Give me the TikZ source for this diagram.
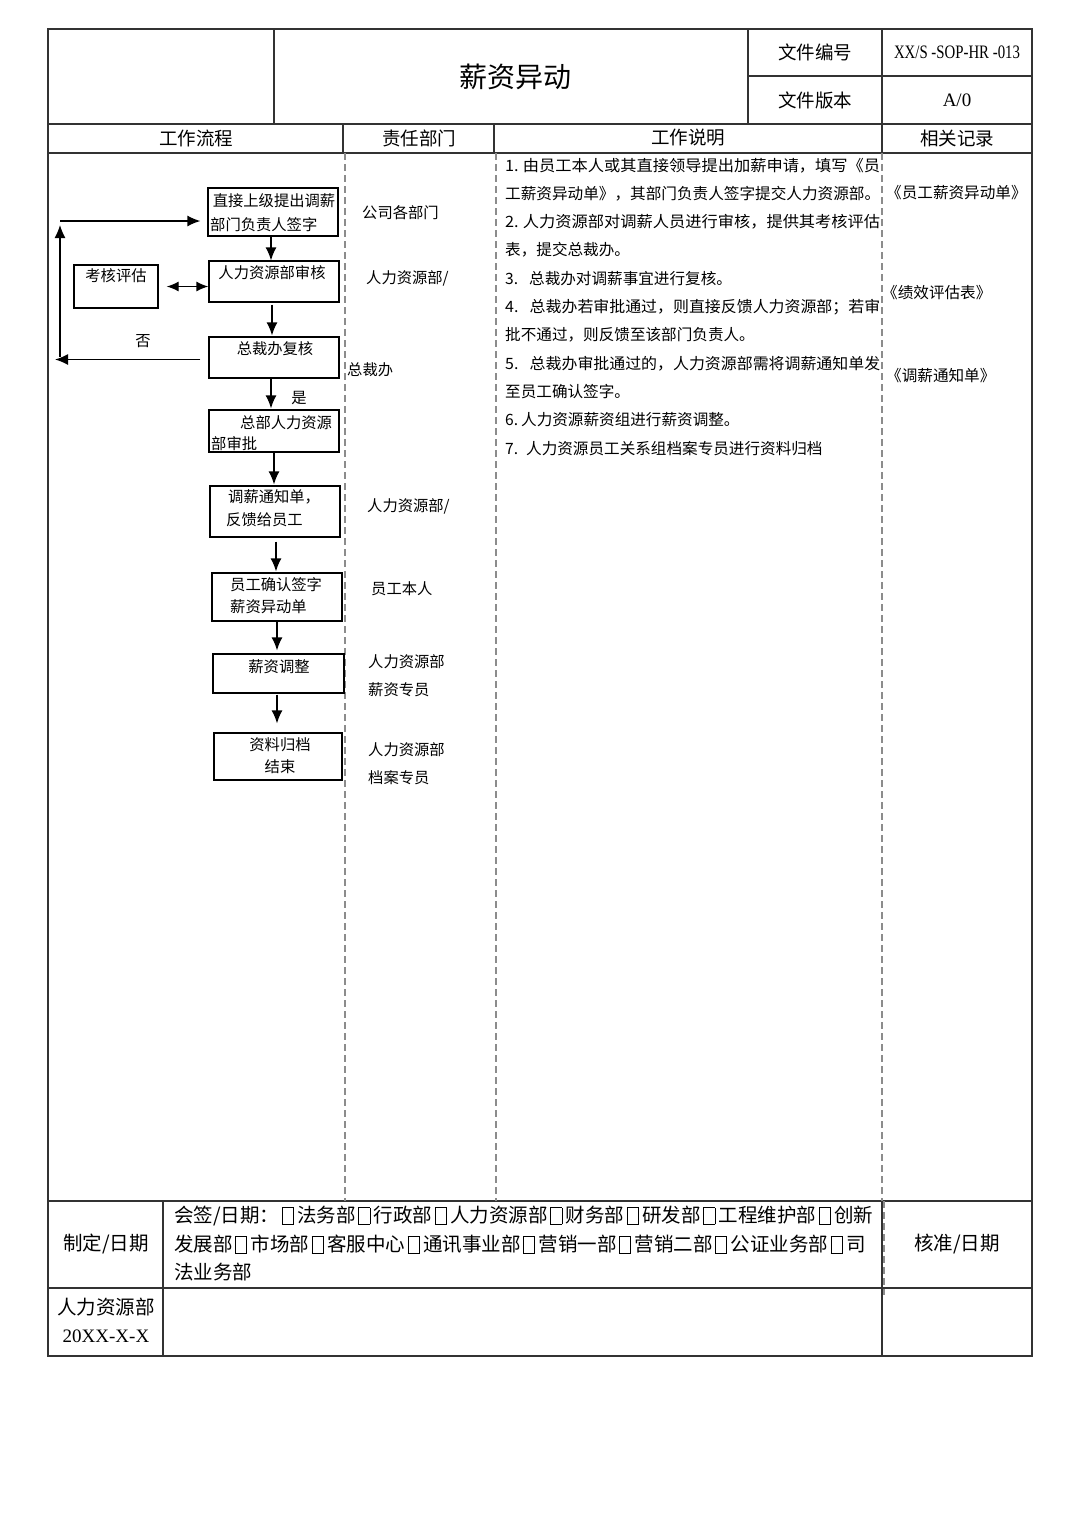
\documentclass[tikz,border=0pt]{standalone}
\usepackage{fontspec}
\setmainfont{Liberation Serif}
\newfontfamily\cjk{Noto Sans CJK SC}
\usetikzlibrary{arrows.meta}
\newcommand\cbx{\kern2.5pt\raisebox{-1.5pt}{\setlength\fboxsep{0pt}\setlength\fboxrule{0.8pt}\framebox[12pt]{\rule{0pt}{16pt}}}\kern3.5pt}
\newcommand\fitto[2]{\resizebox{#1}{\height}{#2}}
\begin{document}
\begin{tikzpicture}[x=1pt,y=-1pt,
  frame/.style={line width=1.1pt,draw=black!80},
  dsh/.style={draw=black!45,line width=1.1pt,dash pattern=on 7pt off 4pt},
  flowbox/.style={draw,line width=1.3pt,inner sep=0pt},
  arr/.style={line width=1.3pt,-{Latex[length=13pt,width=11pt]}},
  dbl/.style={line width=1.3pt,{Latex[length=12pt,width=10pt]}-{Latex[length=12pt,width=10pt]}},
  tx/.style={font=\cjk\fontsize{15.3}{18}\selectfont,inner sep=0pt},
  tl/.style={tx,anchor=west},
  desc/.style={font=\cjk\fontsize{15.6}{18}\selectfont,inner sep=0pt,anchor=west},
  hd/.style={font=\cjk\fontsize{18.5}{22}\selectfont,inner sep=0pt},
  ft/.style={font=\cjk\fontsize{19.5}{23}\selectfont,inner sep=0pt},
  lat/.style={font=\fontsize{19}{22}\selectfont,inner sep=0pt}
]
\useasboundingbox[fill=white] (0,0) rectangle (1080,1527);

% ---------- table frame ----------
\draw[frame] (48,29) rectangle (1032,1356);
\draw[frame] (48,124) -- (1032,124);
\draw[frame] (48,153) -- (1032,153);
\draw[frame] (274,29) -- (274,124);
\draw[frame] (748,29) -- (748,124);
\draw[frame] (882,29) -- (882,153);
\draw[frame] (748,76) -- (1032,76);
\draw[frame] (343,124) -- (343,153);
\draw[frame] (494,124) -- (494,153);
\draw[frame] (48,1201) -- (1032,1201);
\draw[frame] (48,1288) -- (1032,1288);
\draw[frame] (163,1201) -- (163,1356);
\draw[frame] (882,1201) -- (882,1356);
\draw[dsh] (345,153) -- (345,1201);
\draw[dsh] (496,153) -- (496,1201);
\draw[dsh] (882,153) -- (882,1201);
\draw[dsh] (884,1201) -- (884,1295);

% ---------- header ----------
\node[font=\cjk\fontsize{28}{32}\selectfont,inner sep=0pt] (title) at (515,77) {薪资异动};
\node[hd] (h1) at (815,52) {文件编号};
\node[inner sep=0pt,font=\fontsize{19}{22}\selectfont] (h2) at (957,52) {\scalebox{0.78}[1]{XX/S -SOP-HR -013}};
\node[hd] (h3) at (815,100) {文件版本};
\node[lat] (h4) at (957,100) {A/0};
\node[hd] (c1) at (196,138) {工作流程};
\node[hd] (c2) at (419,138) {责任部门};
\node[hd] (c3) at (688,138) {工作说明};
\node[hd] (c4) at (957,138) {相关记录};

% ---------- flow boxes ----------
\node[flowbox,minimum width=130pt,minimum height=48pt] (b1) at (273,212) {};
\node[flowbox,minimum width=130pt,minimum height=41pt] (b2) at (274,281.5) {};
\node[flowbox,minimum width=84pt,minimum height=43pt] (kh) at (116,286.5) {};
\node[flowbox,minimum width=130pt,minimum height=41pt] (b3) at (274,357.5) {};
\node[flowbox,minimum width=130pt,minimum height=42pt] (b4) at (274,431) {};
\node[flowbox,minimum width=130pt,minimum height=51pt] (b5) at (275,511.5) {};
\node[flowbox,minimum width=130pt,minimum height=48pt] (b6) at (277,597) {};
\node[flowbox,minimum width=131pt,minimum height=39pt] (b7) at (278.5,673.5) {};
\node[flowbox,minimum width=128pt,minimum height=47pt] (b8) at (278,756.5) {};

\node[tx] (t1a) at (274,201) {直接上级提出调薪};
\node[tl] (t1b) at (210,225) {部门负责人签字};
\node[tx] (t2) at (272,273) {人力资源部审核};
\node[tx] (tk) at (116,276) {考核评估};
\node[tx] (t3) at (275,349) {总裁办复核};
\node[tl] (t4a) at (240,423) {总部人力资源};
\node[tl] (t4b) at (211,444) {部审批};
\node[tl] (t5a) at (228,497) {调薪通知单，};
\node[tl] (t5b) at (226,520) {反馈给员工};
\node[tl] (t6a) at (230,585) {员工确认签字};
\node[tl] (t6b) at (230,607) {薪资异动单};
\node[tx] (t7) at (279,667) {薪资调整};
\node[tx] (t8a) at (280,745) {资料归档};
\node[tx] (t8b) at (280,767) {结束};
\node[tx] (no) at (143,341) {否};
\node[tx] (yes) at (299,398) {是};

% ---------- arrows ----------
\draw[arr] (b1.south -| 271,0) -- (b2.north -| 271,0);
\draw[arr] ([yshift=-2pt]b2.south -| 272,0) -- ([yshift=1pt]b3.north -| 272,0);
\draw[arr] (b3.south -| 271,0) -- ([yshift=1pt]b4.north -| 271,0);
\draw[arr] (b4.south -| 274,0) -- ([yshift=1pt]b5.north -| 274,0);
\draw[arr] ([yshift=-4pt]b5.south -| 276,0) -- ([yshift=1pt]b6.north -| 276,0);
\draw[arr] (b6.south -| 277,0) -- ([yshift=3pt]b7.north -| 277,0);
\draw[arr] ([yshift=-1pt]b7.south -| 277,0) -- ([yshift=9pt]b8.north -| 277,0);
\draw[dbl] ([xshift=8pt]kh.east) -- (b2.west |- kh.east);

\coordinate (n1) at (55,359.5);
\coordinate (n2) at (60,357);
\coordinate (n3) at (60,225);
\coordinate (n4) at (60,221);
\draw[arr] ([xshift=-8pt]b3.west |- n1) -- (n1);
\draw[arr] (n2) -- (n3);
\draw[arr] (n4) -- ([xshift=-7pt]b1.west |- n4);

% ---------- departments ----------
\node[tl] (d1) at (362,213) {公司各部门};
\node[tl] (d2) at (366,278) {人力资源部/};
\node[tl] (d3) at (347,370) {总裁办};
\node[tl] (d4) at (367,506) {人力资源部/};
\node[tl] (d5) at (371,589) {员工本人};
\node[tl] (d6a) at (368,662) {人力资源部};
\node[tl] (d6b) at (368,690) {薪资专员};
\node[tl] (d7a) at (368,750) {人力资源部};
\node[tl] (d7b) at (368,778) {档案专员};

% ---------- description ----------
\node[desc] (s1) at (505,166) {\fitto{375pt}{1.\hspace{4pt}由员工本人或其直接领导提出加薪申请，填写《员}};
\node[desc] (s2) at (505,194) {\fitto{375pt}{工薪资异动单》，其部门负责人签字提交人力资源部。}};
\node[desc] (s3) at (505,222) {\fitto{375pt}{2.\hspace{4pt}人力资源部对调薪人员进行审核，提供其考核评估}};
\node[desc] (s4) at (505,250) {表，提交总裁办。};
\node[desc] (s5) at (505,279) {3.\hspace{11pt}总裁办对调薪事宜进行复核。};
\node[desc] (s6) at (505,307) {\fitto{375pt}{4.\hspace{11pt}总裁办若审批通过，则直接反馈人力资源部；若审}};
\node[desc] (s7) at (505,335) {批不通过，则反馈至该部门负责人。};
\node[desc] (s8) at (505,364) {\fitto{375pt}{5.\hspace{11pt}总裁办审批通过的，人力资源部需将调薪通知单发}};
\node[desc] (s9) at (505,392) {至员工确认签字。};
\node[desc] (s10) at (505,420) {6.\hspace{3pt}人力资源薪资组进行薪资调整。};
\node[desc] (s11) at (505,449) {7.\hspace{8pt}人力资源员工关系组档案专员进行资料归档};

% ---------- records ----------
\node[desc] (r1) at (886,193) {《员工薪资异动单》};
\node[desc] (r2) at (882,293) {《绩效评估表》};
\node[desc] (r3) at (886,376) {《调薪通知单》};

% ---------- footer ----------
\node[ft] (f1) at (106,1244) {制定/日期};
\node[ft,anchor=west] (f2) at (174,1216) {会签/日期：\cbx 法务部\cbx 行政部\cbx 人力资源部\cbx 财务部\cbx 研发部\cbx 工程维护部\cbx 创新};
\node[ft,anchor=west] (f3) at (174,1244) {发展部\cbx 市场部\cbx 客服中心\cbx 通讯事业部\cbx 营销一部\cbx 营销二部\cbx 公证业务部\cbx 司};
\node[ft,anchor=west] (f4) at (174,1272) {法业务部};
\node[ft] (f5) at (957,1244) {核准/日期};
\node[ft] (f6) at (106,1307) {人力资源部};
\node[lat] (f7) at (106,1336) {20XX-X-X};
\end{tikzpicture}
\end{document}
